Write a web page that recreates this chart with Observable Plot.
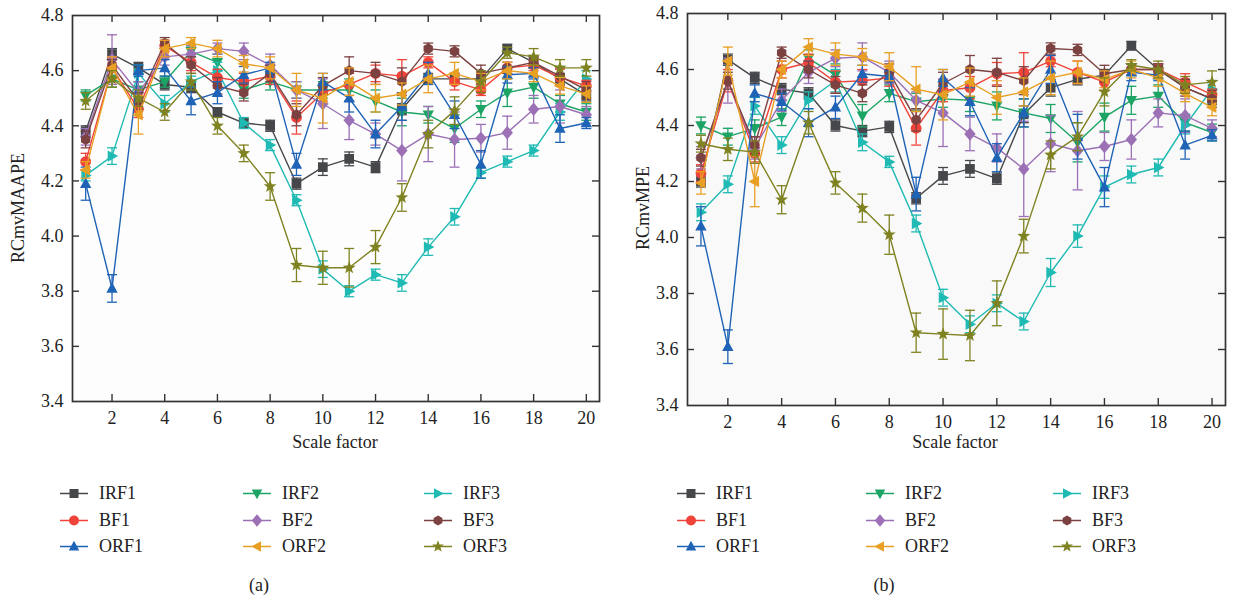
<!DOCTYPE html>
<html><head><meta charset="utf-8">
<script src="https://cdn.jsdelivr.net/npm/d3@7"></script>
<script src="https://cdn.jsdelivr.net/npm/@observablehq/plot@0.6"></script>
<style>
body{margin:0;background:#fff;}
#root{position:relative;width:1235px;height:601px;font-family:"Liberation Serif",serif;color:#222;overflow:hidden;}
.panel{position:absolute;top:0;}
.lbl{position:absolute;font-size:18px;white-space:nowrap;transform:translate(-50%,-50%);}
.rot{transform:translate(-50%,-50%) rotate(-90deg);}
.leg{position:absolute;display:flex;align-items:center;font-size:18px;transform:translateY(-50%);}
.leg svg{margin-right:11px;}
</style></head><body><div id="root"></div>
<script>
// ---------------- data ----------------
const scaleFactors = d3.range(1, 21);
const xTicks = [2,4,6,8,10,12,14,16,18,20];
const yTicks = [3.4,3.6,3.8,4.0,4.2,4.4,4.6,4.8];
const seriesNames = ["IRF1","IRF2","IRF3","BF1","BF2","BF3","ORF1","ORF2","ORF3"];
const seriesColors = ["#45474b","#1ca465","#1fbab3","#f0443a","#9b70b5","#7c4141","#1f63b6","#e8a024","#7f8220"];
const seriesSymbols = ["square","triDown","triRight","circle","diamond","hexagon","triUp","triLeft","star"];

// panel (a): RCmvMAAPE
const a_IRF1 = [4.38,4.66,4.61,4.55,4.54,4.45,4.41,4.40,4.19,4.25,4.28,4.25,4.46,4.57,4.57,4.57,4.68,4.63,4.57,4.51];
const a_IRF2 = [4.51,4.57,4.53,4.56,4.67,4.63,4.53,4.56,4.53,4.53,4.53,4.49,4.45,4.44,4.39,4.46,4.52,4.54,4.48,4.45];
const a_IRF3 = [4.22,4.29,4.59,4.48,4.56,4.60,4.41,4.33,4.13,3.88,3.80,3.86,3.83,3.96,4.07,4.23,4.27,4.31,4.45,4.57];
const a_BF1  = [4.27,4.61,4.46,4.69,4.63,4.575,4.56,4.58,4.43,4.52,4.55,4.59,4.58,4.63,4.56,4.53,4.61,4.62,4.575,4.545];
const a_BF2  = [4.36,4.64,4.52,4.65,4.66,4.68,4.67,4.62,4.53,4.48,4.42,4.37,4.31,4.37,4.35,4.355,4.375,4.46,4.47,4.44];
const a_BF3  = [4.35,4.62,4.49,4.70,4.62,4.545,4.52,4.59,4.44,4.545,4.60,4.59,4.56,4.68,4.67,4.59,4.61,4.63,4.58,4.53];
const a_ORF1 = [4.19,3.81,4.60,4.61,4.49,4.52,4.585,4.61,4.26,4.56,4.50,4.37,4.47,4.59,4.44,4.26,4.585,4.59,4.39,4.41];
const a_ORF2 = [4.24,4.61,4.44,4.68,4.70,4.68,4.625,4.61,4.53,4.50,4.56,4.50,4.515,4.57,4.59,4.56,4.60,4.59,4.545,4.515];
const a_ORF3 = [4.49,4.57,4.50,4.45,4.56,4.40,4.30,4.18,3.895,3.885,3.885,3.96,4.14,4.37,4.455,4.56,4.665,4.65,4.61,4.61];

const a_IRF1_err = [0.02,0.02,0.02,0.02,0.02,0.015,0.015,0.02,0.02,0.03,0.025,0.02,0.02,0.02,0.02,0.02,0.015,0.02,0.02,0.02];
const a_IRF2_err = [0.02,0.03,0.03,0.02,0.02,0.03,0.03,0.03,0.03,0.03,0.04,0.04,0.05,0.03,0.05,0.03,0.05,0.04,0.03,0.03];
const a_IRF3_err = [0.02,0.03,0.03,0.03,0.02,0.03,0.02,0.02,0.02,0.03,0.02,0.02,0.03,0.03,0.03,0.02,0.02,0.02,0.03,0.03];
const a_BF1_err  = [0.03,0.04,0.03,0.02,0.03,0.03,0.03,0.03,0.06,0.03,0.04,0.03,0.06,0.02,0.03,0.02,0.02,0.02,0.03,0.02];
const a_BF2_err  = [0.03,0.09,0.04,0.03,0.03,0.02,0.03,0.04,0.03,0.09,0.07,0.04,0.11,0.10,0.10,0.05,0.06,0.05,0.06,0.03];
const a_BF3_err  = [0.03,0.02,0.03,0.02,0.03,0.03,0.03,0.03,0.04,0.03,0.05,0.04,0.05,0.02,0.02,0.03,0.02,0.02,0.03,0.03];
const a_ORF1_err = [0.06,0.05,0.02,0.03,0.05,0.04,0.03,0.02,0.04,0.03,0.05,0.05,0.05,0.04,0.05,0.05,0.03,0.02,0.05,0.02];
const a_ORF2_err = [0.03,0.04,0.07,0.03,0.02,0.03,0.03,0.04,0.06,0.09,0.05,0.05,0.04,0.05,0.04,0.03,0.03,0.03,0.03,0.03];
const a_ORF3_err = [0.03,0.03,0.03,0.03,0.03,0.03,0.03,0.05,0.06,0.06,0.07,0.06,0.05,0.05,0.05,0.04,0.02,0.03,0.03,0.03];

// panel (b): RCmvMPE
const b_IRF1 = [4.20,4.635,4.57,4.53,4.515,4.40,4.38,4.395,4.14,4.22,4.245,4.21,4.44,4.535,4.565,4.58,4.685,4.60,4.535,4.495];
const b_IRF2 = [4.40,4.36,4.39,4.43,4.64,4.58,4.435,4.515,4.485,4.495,4.49,4.47,4.445,4.425,4.34,4.43,4.49,4.505,4.41,4.375];
const b_IRF3 = [4.09,4.19,4.47,4.33,4.49,4.56,4.34,4.27,4.05,3.785,3.69,3.765,3.70,3.875,4.005,4.18,4.225,4.25,4.40,4.53];
const b_BF1  = [4.23,4.56,4.30,4.60,4.625,4.555,4.56,4.57,4.39,4.525,4.535,4.585,4.59,4.63,4.59,4.555,4.60,4.60,4.555,4.51];
const b_BF2  = [4.285,4.56,4.32,4.49,4.59,4.64,4.645,4.59,4.49,4.445,4.37,4.32,4.245,4.335,4.31,4.325,4.35,4.445,4.435,4.39];
const b_BF3  = [4.285,4.56,4.33,4.66,4.60,4.545,4.515,4.59,4.42,4.55,4.60,4.59,4.56,4.675,4.67,4.585,4.60,4.60,4.535,4.495];
const b_ORF1 = [4.04,3.61,4.515,4.485,4.41,4.465,4.585,4.575,4.155,4.57,4.485,4.285,4.445,4.60,4.36,4.18,4.59,4.58,4.33,4.365];
const b_ORF2 = [4.195,4.63,4.20,4.60,4.68,4.655,4.645,4.61,4.53,4.51,4.555,4.50,4.52,4.57,4.59,4.565,4.60,4.57,4.515,4.465];
const b_ORF3 = [4.335,4.315,4.305,4.135,4.41,4.195,4.105,4.01,3.66,3.655,3.65,3.765,4.005,4.295,4.36,4.52,4.615,4.60,4.545,4.555];

const b_IRF1_err = [0.02,0.02,0.02,0.02,0.02,0.02,0.02,0.02,0.02,0.03,0.03,0.02,0.03,0.03,0.02,0.02,0.015,0.02,0.02,0.02];
const b_IRF2_err = [0.03,0.03,0.03,0.03,0.03,0.04,0.04,0.03,0.03,0.03,0.04,0.05,0.05,0.05,0.07,0.05,0.05,0.04,0.03,0.03];
const b_IRF3_err = [0.03,0.03,0.03,0.03,0.03,0.04,0.03,0.02,0.03,0.03,0.03,0.03,0.03,0.05,0.04,0.04,0.03,0.03,0.03,0.03];
const b_BF1_err  = [0.03,0.04,0.03,0.03,0.03,0.04,0.04,0.03,0.06,0.04,0.04,0.04,0.07,0.02,0.04,0.03,0.02,0.02,0.03,0.02];
const b_BF2_err  = [0.04,0.08,0.04,0.04,0.04,0.03,0.05,0.04,0.03,0.12,0.06,0.05,0.17,0.10,0.14,0.05,0.07,0.05,0.06,0.03];
const b_BF3_err  = [0.03,0.03,0.03,0.02,0.03,0.03,0.03,0.03,0.04,0.04,0.05,0.05,0.05,0.02,0.02,0.03,0.02,0.02,0.03,0.03];
const b_ORF1_err = [0.07,0.06,0.03,0.03,0.05,0.04,0.03,0.02,0.06,0.03,0.05,0.05,0.05,0.05,0.08,0.07,0.03,0.02,0.05,0.02];
const b_ORF2_err = [0.04,0.05,0.09,0.03,0.03,0.04,0.03,0.05,0.08,0.09,0.05,0.06,0.05,0.06,0.04,0.03,0.03,0.03,0.03,0.03];
const b_ORF3_err = [0.03,0.04,0.04,0.05,0.04,0.04,0.05,0.07,0.07,0.09,0.09,0.08,0.06,0.05,0.05,0.05,0.02,0.03,0.03,0.04];

const panelA = {values:[a_IRF1,a_IRF2,a_IRF3,a_BF1,a_BF2,a_BF3,a_ORF1,a_ORF2,a_ORF3],
                errors:[a_IRF1_err,a_IRF2_err,a_IRF3_err,a_BF1_err,a_BF2_err,a_BF3_err,a_ORF1_err,a_ORF2_err,a_ORF3_err]};
const panelB = {values:[b_IRF1,b_IRF2,b_IRF3,b_BF1,b_BF2,b_BF3,b_ORF1,b_ORF2,b_ORF3],
                errors:[b_IRF1_err,b_IRF2_err,b_IRF3_err,b_BF1_err,b_BF2_err,b_BF3_err,b_ORF1_err,b_ORF2_err,b_ORF3_err]};

// ---------------- symbols ----------------
function poly(ctx, pts){ctx.moveTo(pts[0][0],pts[0][1]);for(let i=1;i<pts.length;i++)ctx.lineTo(pts[i][0],pts[i][1]);ctx.closePath();}
const rOf = s => Math.sqrt(s/Math.PI);
const symbols = {
  square:{draw(c,s){const r=rOf(s)*0.9;poly(c,[[-r,-r],[r,-r],[r,r],[-r,r]]);}},
  circle:{draw(c,s){const r=rOf(s);c.moveTo(r,0);c.arc(0,0,r,0,2*Math.PI);}},
  triUp:{draw(c,s){const r=rOf(s);poly(c,[[0,-1.15*r],[1.05*r,0.8*r],[-1.05*r,0.8*r]]);}},
  triDown:{draw(c,s){const r=rOf(s);poly(c,[[0,1.15*r],[1.05*r,-0.8*r],[-1.05*r,-0.8*r]]);}},
  triRight:{draw(c,s){const r=rOf(s);poly(c,[[1.15*r,0],[-0.8*r,-1.05*r],[-0.8*r,1.05*r]]);}},
  triLeft:{draw(c,s){const r=rOf(s);poly(c,[[-1.15*r,0],[0.8*r,-1.05*r],[0.8*r,1.05*r]]);}},
  diamond:{draw(c,s){const r=rOf(s);poly(c,[[0,-1.25*r],[1.05*r,0],[0,1.25*r],[-1.05*r,0]]);}},
  hexagon:{draw(c,s){const r=rOf(s);const p=[];for(let i=0;i<6;i++){const a=Math.PI/3*i-Math.PI/2;p.push([r*Math.cos(a),r*Math.sin(a)]);}poly(c,p);}},
  star:{draw(c,s){const r=rOf(s)*1.25;const p=[];for(let i=0;i<10;i++){const a=Math.PI/5*i-Math.PI/2;const rr=i%2?r*0.42:r;p.push([rr*Math.cos(a),rr*Math.sin(a)]);}poly(c,p);}},
  cap:{draw(c,s){const r=rOf(s);c.moveTo(-r,0);c.lineTo(r,0);}}
};

// ---------------- chart builder ----------------
function buildPanel(panel, opt){
  const W = opt.width - opt.ml - opt.mr, H = opt.height - opt.mt - opt.mb;
  const marks = [Plot.frame({fill: opt.bg, stroke: null})];
  seriesNames.forEach((name, i) => {
    const rows = scaleFactors.map((x, j) => ({x, y: panel.values[i][j], e: panel.errors[i][j]}));
    const col = seriesColors[i];
    marks.push(Plot.ruleX(rows, {x:"x", y1:d=>d.y-d.e, y2:d=>d.y+d.e, stroke:col, strokeWidth:1.3}));
    marks.push(Plot.dot(rows, {x:"x", y:d=>d.y-d.e, symbol:symbols.cap, r:5, stroke:col, fill:"none", strokeWidth:1.3}));
    marks.push(Plot.dot(rows, {x:"x", y:d=>d.y+d.e, symbol:symbols.cap, r:5, stroke:col, fill:"none", strokeWidth:1.3}));
    marks.push(Plot.line(rows, {x:"x", y:"y", stroke:col, strokeWidth:1.4}));
    marks.push(Plot.dot(rows, {x:"x", y:"y", symbol:symbols[seriesSymbols[i]], r:5.4, fill:col, stroke:"none"}));
  });
  const tk = "#333";
  marks.push(Plot.tickY(yTicks.slice(1,-1), {y:d=>d, insetRight: W-7, stroke:tk, strokeWidth:1.4}));
  marks.push(Plot.tickY(yTicks.slice(1,-1), {y:d=>d, insetLeft: W-7, stroke:tk, strokeWidth:1.4}));
  marks.push(Plot.tickX(xTicks, {x:d=>d, insetTop: H-7, stroke:tk, strokeWidth:1.4}));
  marks.push(Plot.tickX(xTicks, {x:d=>d, insetBottom: H-7, stroke:tk, strokeWidth:1.4}));
  marks.push(Plot.frame({stroke:"#333", strokeWidth:1.7, fill:"none"}));
  return Plot.plot({
    width: opt.width, height: opt.height,
    marginLeft: opt.ml, marginRight: opt.mr, marginTop: opt.mt, marginBottom: opt.mb,
    style: {fontFamily:'"Liberation Serif", serif', fontSize:"18px", background:"transparent", color:"#222", overflow:"visible"},
    x: {domain:[0.5,20.5], ticks:xTicks, tickSize:0, tickPadding:10, label:null, tickFormat:d=>String(d)},
    y: {domain:[3.4,4.8], ticks:yTicks, tickSize:0, tickPadding:9, label:null, tickFormat:d3.format(".1f")},
    marks
  });
}

const root = document.getElementById("root");
function place(el, left){const d=document.createElement("div");d.className="panel";d.style.left=left+"px";d.appendChild(el);root.appendChild(d);}
place(buildPanel(panelA, {width:617, height:460, ml:72, mr:18, mt:15, mb:59, bg:"#fdfdfd"}), 0);
place(buildPanel(panelB, {width:618, height:460, ml:70, mr:10, mt:13, mb:55, bg:"#f9f9f9"}), 617);

function label(text, x, y, cls){const d=document.createElement("div");d.className="lbl"+(cls?" "+cls:"");d.style.left=x+"px";d.style.top=y+"px";d.textContent=text;root.appendChild(d);}
label("RCmvMAAPE", 18, 208, "rot");
label("RCmvMPE", 643, 208, "rot");
label("Scale factor", 335, 442);
label("Scale factor", 955, 442);
label("(a)", 259, 585);
label("(b)", 884, 585);

// legends
function legendItem(i, x, y){
  const d=document.createElement("div");d.className="leg";d.style.left=x+"px";d.style.top=y+"px";
  const ns="http://www.w3.org/2000/svg";
  const svg=document.createElementNS(ns,"svg");svg.setAttribute("width","28");svg.setAttribute("height","14");
  const ln=document.createElementNS(ns,"line");ln.setAttribute("x1","0");ln.setAttribute("x2","28");ln.setAttribute("y1","7");ln.setAttribute("y2","7");
  ln.setAttribute("stroke",seriesColors[i]);ln.setAttribute("stroke-width","1.7");svg.appendChild(ln);
  const p=d3.path();symbols[seriesSymbols[i]].draw(p, Math.PI*5*5);
  const pa=document.createElementNS(ns,"path");pa.setAttribute("d",p.toString());pa.setAttribute("transform","translate(14,7)");pa.setAttribute("fill",seriesColors[i]);svg.appendChild(pa);
  d.appendChild(svg);
  const t=document.createElement("span");t.textContent=seriesNames[i];d.appendChild(t);
  root.appendChild(d);
}
const rowsY=[493,520,546];
const colsA=[60,243,424], colsB=[677,866,1053];
seriesNames.forEach((n,i)=>{const r=Math.floor(i/3), c=i%3;legendItem(i,colsA[c],rowsY[r]);legendItem(i,colsB[c],rowsY[r]);});
</script></body></html>
